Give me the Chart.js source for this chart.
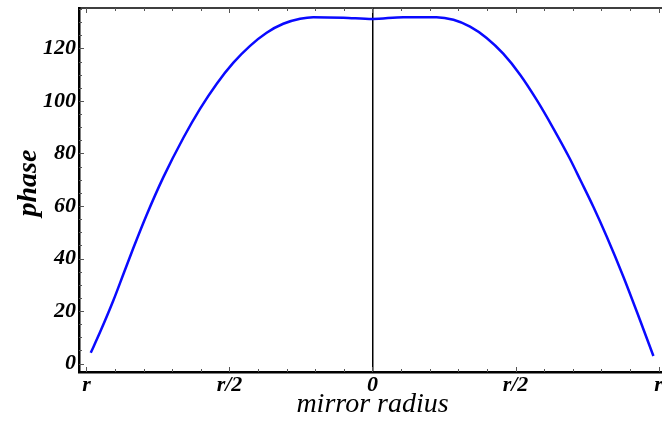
<!DOCTYPE html>
<html>
<head>
<meta charset="utf-8">
<script src="https://cdn.jsdelivr.net/npm/chart.js@4"></script>
<style>
  html, body { margin: 0; padding: 0; background: #fff; overflow: hidden; }
  .chart-container { position: relative; width: 670px; height: 421px; }
</style>
</head>
<body>
<div class="chart-container">
  <canvas id="mainChart"></canvas>
</div>
<script>
// Curve (radius in units of r, phase)
const radius = [-0.985, -0.953, -0.906, -0.871, -0.836, -0.790, -0.731, -0.661, -0.603, -0.545,
  -0.487, -0.428, -0.370, -0.312, -0.253, -0.207, -0.102, 0, 0.108, 0.224,
  0.283, 0.341, 0.399, 0.457, 0.516, 0.574, 0.632, 0.690, 0.727, 0.772,
  0.819, 0.877, 0.935, 0.982];
const phase = [4.1, 11.8, 24.0, 34.0, 44.0, 56.5, 71.0, 86.0, 97.0, 106.5,
  114.5, 121.0, 126.0, 129.4, 131.3, 131.9, 131.7, 131.2, 131.9, 131.9,
  130.9, 128.3, 124.0, 118.0, 110.0, 100.4, 89.6, 78.0, 69.8, 59.7,
  48.3, 33.1, 16.6, 2.9];

// Axis ticks
const xTickValues = [-1, -0.5, 0, 0.5, 1];
const xTickLabels = ['r', 'r/2', '0', 'r/2', 'r'];
const xMinorStep = 0.1;
const yTickValues = [0, 20, 40, 60, 80, 100, 120];
const yMinorStep = 5;

const tickFont = { family: 'Liberation Serif', size: 22, style: 'italic', weight: 'bold' };

// Frame on all sides plus small inward ticks, Mathematica style
const framePlugin = {
    id: 'frame',
    afterDatasetsDraw(chart) {
        const { ctx, chartArea: a, scales: { x, y } } = chart;
        ctx.save();
        ctx.strokeStyle = '#000';
        ctx.lineWidth = 1.5;
        ctx.beginPath();
        ctx.moveTo(a.left, a.top); ctx.lineTo(a.right, a.top);
        ctx.moveTo(a.right, a.top); ctx.lineTo(a.right, a.bottom);
        ctx.stroke();

        ctx.lineWidth = 1;
        ctx.strokeStyle = '#555';
        ctx.beginPath();
        for (let v = -1; v <= 1.0001; v += xMinorStep) {
            const px = Math.round(x.getPixelForValue(v)) + 0.5;
            const major = xTickValues.some(t => Math.abs(t - v) < 1e-6);
            const len = major ? 5 : 3;
            ctx.moveTo(px, a.bottom); ctx.lineTo(px, a.bottom - len);
            ctx.moveTo(px, a.top); ctx.lineTo(px, a.top + len);
        }
        for (let v = 0; v <= 135; v += yMinorStep) {
            const py = Math.round(y.getPixelForValue(v)) + 0.5;
            const major = yTickValues.includes(v);
            const len = major ? 5 : 3;
            ctx.moveTo(a.left, py); ctx.lineTo(a.left + len, py);
        }
        ctx.stroke();
        ctx.restore();
    }
};

const ctx = document.getElementById('mainChart').getContext('2d');
new Chart(ctx, {
    type: 'scatter',
    data: {
        datasets: [{
            data: radius.map((r, i) => ({ x: r, y: phase[i] })),
            showLine: true,
            borderColor: '#0a0aff',
            borderWidth: 2.5,
            pointRadius: 0,
            cubicInterpolationMode: 'monotone',
            fill: false
        }]
    },
    options: {
        responsive: true,
        maintainAspectRatio: false,
        animation: false,
        layout: { padding: { top: 8, right: 4, left: 0, bottom: 0 } },
        plugins: { legend: { display: false }, tooltip: { enabled: false } },
        scales: {
            x: {
                type: 'linear',
                min: -1.026,
                max: 1.026,
                afterBuildTicks: s => { s.ticks = xTickValues.map(v => ({ value: v })); },
                afterFit: s => { s.height = 49; s.paddingLeft = 0; s.paddingRight = 0; },
                border: { display: true, color: '#000', width: 2.5 },
                grid: {
                    drawOnChartArea: true,
                    drawTicks: false,
                    color: c => c.tick && c.tick.value === 0 ? '#000' : 'rgba(0,0,0,0)',
                    lineWidth: 1.5
                },
                ticks: {
                    color: '#000',
                    font: tickFont,
                    padding: 0,
                    maxRotation: 0,
                    autoSkip: false,
                    callback: (v) => xTickLabels[xTickValues.indexOf(v)]
                },
                title: {
                    display: true,
                    text: 'mirror radius',
                    color: '#000',
                    font: { family: 'Liberation Serif', size: 28, style: 'italic' },
                    padding: { top: -3, bottom: 0 }
                }
            },
            y: {
                min: -3.2,
                max: 135.4,
                afterBuildTicks: s => { s.ticks = yTickValues.map(v => ({ value: v })); },
                afterFit: s => { s.width = 79; s.paddingTop = 0; s.paddingBottom = 0; },
                border: { display: true, color: '#000', width: 2.5 },
                grid: { display: false, drawTicks: false },
                ticks: {
                    color: '#000',
                    font: tickFont,
                    padding: 3
                },
                title: {
                    display: true,
                    text: '  phase',
                    color: '#000',
                    font: { family: 'Liberation Serif', size: 28, style: 'italic', weight: 'bold' },
                    padding: { top: 12, bottom: 0 }
                }
            }
        }
    },
    plugins: [framePlugin]
});
</script>
</body>
</html>
